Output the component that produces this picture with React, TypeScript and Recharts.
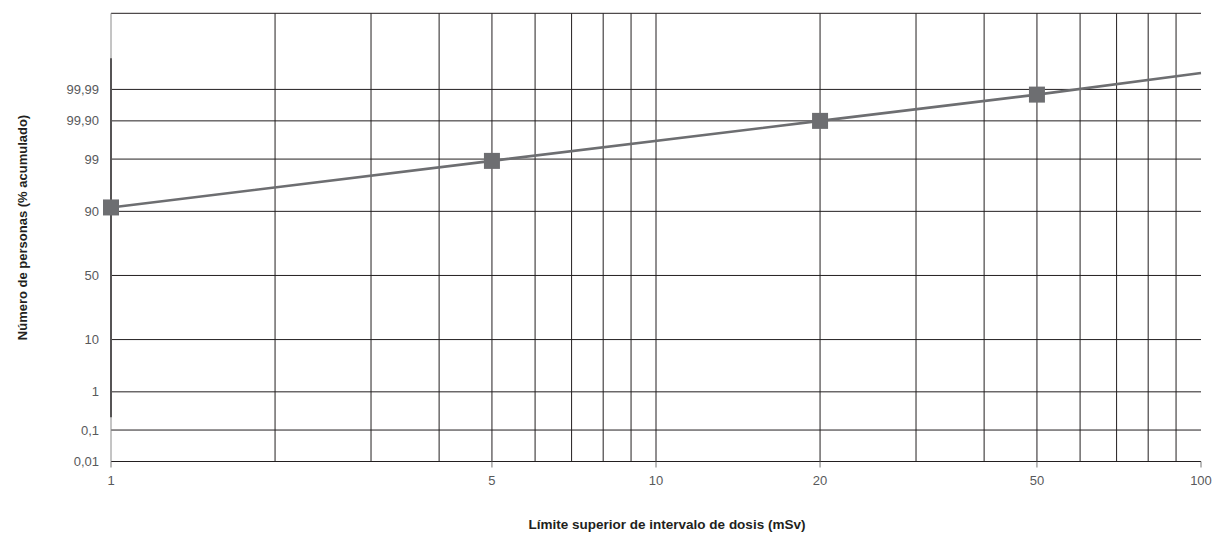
import React from "react";
import {
  ComposedChart,
  Line,
  XAxis,
  YAxis,
  CartesianGrid,
  ReferenceLine,
  ReferenceArea,
  Label,
} from "recharts";

// ---- Data ----
const doses = [1, 5, 20, 50, 100]; // mSv, upper limit of dose interval
const cumulativePct = [91.3, 98.9, 99.9, 99.985, 99.9974]; // % accumulated persons
const markerDoses = [1, 5, 20, 50];

const xTicks = [1, 5, 10, 20, 50, 100];
const xGridLines = [2, 3, 4, 5, 6, 7, 8, 9, 10, 20, 30, 40, 50, 60, 70, 80, 90];

const yTickPct = [0.01, 0.1, 1, 10, 50, 90, 99, 99.9, 99.99];
const yTickLabels = ["0,01", "0,1", "1", "10", "50", "90", "99", "99,90", "99,99"];
const yDomainPct = [0.01, 99.999992];
const darkAxisPct = [0.23, 99.9993];

const xTitle = "Límite superior de intervalo de dosis (mSv)";
const yTitle = "Número de personas (% acumulado)";

// ---- Probability (probit) scale transform ----
function probit(pct: number): number {
  const p = pct / 100;
  const a = [-3.969683028665376e1, 2.209460984245205e2, -2.759285104469687e2, 1.38357751867269e2, -3.066479806614716e1, 2.506628277459239];
  const b = [-5.447609879822406e1, 1.615858368580409e2, -1.556989798598866e2, 6.680131188771972e1, -1.328068155288572e1];
  const c = [-7.784894002430293e-3, -3.223964580411365e-1, -2.400758277161838, -2.549732539343734, 4.374664141464968, 2.938163982698783];
  const d = [7.784695709041462e-3, 3.224671290700398e-1, 2.445134137142996, 3.754408661907416];
  const plow = 0.02425;
  const phigh = 1 - plow;
  if (p < plow) {
    const q = Math.sqrt(-2 * Math.log(p));
    return (((((c[0] * q + c[1]) * q + c[2]) * q + c[3]) * q + c[4]) * q + c[5]) / ((((d[0] * q + d[1]) * q + d[2]) * q + d[3]) * q + 1);
  }
  if (p <= phigh) {
    const q = p - 0.5;
    const r = q * q;
    return ((((((a[0] * r + a[1]) * r + a[2]) * r + a[3]) * r + a[4]) * r + a[5]) * q) / (((((b[0] * r + b[1]) * r + b[2]) * r + b[3]) * r + b[4]) * r + 1);
  }
  const q = Math.sqrt(-2 * Math.log(1 - p));
  return -(((((c[0] * q + c[1]) * q + c[2]) * q + c[3]) * q + c[4]) * q + c[5]) / ((((d[0] * q + d[1]) * q + d[2]) * q + d[3]) * q + 1);
}

const data = doses.map((dose, i) => ({ dose, z: probit(cumulativePct[i]) }));
const yTicksZ = yTickPct.map(probit);
const yDomainZ = yDomainPct.map(probit);

const GRID = "#231f20";
const SERIES = "#6d6e71";
const TICK_TEXT = "#58595b";
const FONT = "'Liberation Sans', Arial, sans-serif";
const TITLE_FONT = "'Liberation Sans Narrow', 'Arial Narrow', 'Liberation Sans', sans-serif";

const fmtY = (v: number) => {
  const idx = yTicksZ.findIndex((t) => Math.abs(t - v) < 1e-6);
  return idx >= 0 ? yTickLabels[idx] : "";
};

const SquareDot = (props: any) => {
  const { cx, cy, payload, index } = props;
  if (!markerDoses.includes(payload.dose)) return <g key={`d${index}`} />;
  return <rect key={`d${index}`} x={cx - 8} y={cy - 8} width={16} height={16} fill={SERIES} />;
};

export default function App() {
  return (
    <div style={{ position: "absolute", left: 0, top: 0, background: "#fff" }}>
      <ComposedChart
        width={1214}
        height={533}
        data={data}
        margin={{ top: 13.3, right: 13, left: 0, bottom: 0 }}
      >
        <CartesianGrid vertical={false} stroke={GRID} strokeWidth={1} />
        <ReferenceArea fill="none" stroke="#7a7a7a" strokeWidth={1.2} ifOverflow="visible" />
        {xGridLines.map((v) => (
          <ReferenceLine key={v} x={v} stroke={GRID} strokeWidth={1} />
        ))}
        <XAxis
          dataKey="dose"
          type="number"
          scale="log"
          domain={[1, 100]}
          ticks={xTicks}
          height={71.5}
          axisLine={{ stroke: GRID, strokeWidth: 1.2 }}
          tickLine={{ stroke: "#777" }}
          tickSize={6}
          tickMargin={8}
          tick={{ fill: TICK_TEXT, fontSize: 13, fontFamily: FONT }}
        >
          <Label
            content={() => (
              <text
                x={667}
                y={529}
                textAnchor="middle"
                fontFamily={TITLE_FONT}
                fontWeight="bold"
                fontSize={13.5}
                fill="#231f20"
              >
                {xTitle}
              </text>
            )}
          />
        </XAxis>
        <YAxis
          dataKey="z"
          type="number"
          domain={yDomainZ}
          ticks={yTicksZ}
          width={111}
          tickFormatter={fmtY}
          axisLine={{ stroke: "#8a8a8a", strokeWidth: 1 }}
          tickLine={false}
          tickSize={6}
          tickMargin={6}
          tick={{ fill: TICK_TEXT, fontSize: 13, fontFamily: FONT }}
        >
          <Label
            content={() => (
              <text
                x={0}
                y={0}
                transform="translate(27 227.5) rotate(-90)"
                textAnchor="middle"
                fontFamily={TITLE_FONT}
                fontWeight="bold"
                fontSize={13}
                fill="#231f20"
              >
                {yTitle}
              </text>
            )}
          />
        </YAxis>
        <ReferenceLine
          segment={[
            { x: 1, y: probit(darkAxisPct[0]) },
            { x: 1, y: probit(darkAxisPct[1]) },
          ]}
          stroke={GRID}
          strokeWidth={2}
        />
        <Line
          dataKey="z"
          stroke={SERIES}
          strokeWidth={2.6}
          dot={SquareDot}
          activeDot={false}
          isAnimationActive={false}
        />
      </ComposedChart>
    </div>
  );
}
